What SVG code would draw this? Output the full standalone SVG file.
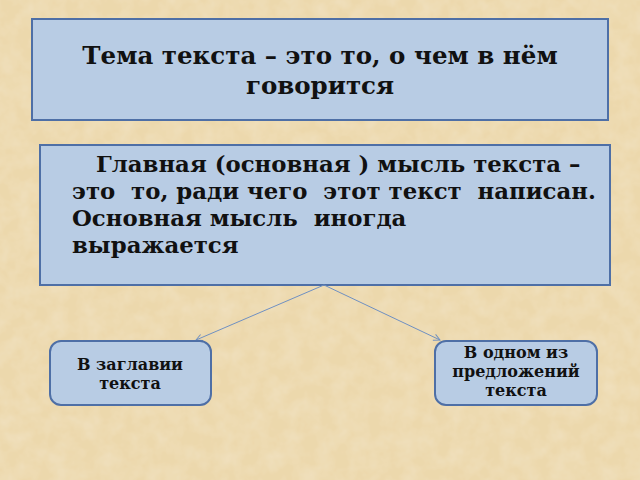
<svg xmlns="http://www.w3.org/2000/svg" width="640" height="480" viewBox="0 0 640 480">
<defs>
<filter id="tex" x="0" y="0" width="100%" height="100%">
<feTurbulence type="fractalNoise" baseFrequency="0.06" numOctaves="3" seed="4" result="n"/>
<feColorMatrix in="n" type="matrix" values="0 0 0 0 0.89  0 0 0 0 0.77  0 0 0 0 0.55  0 0 0 1.1 -0.35" result="c"/>
<feComposite in="c" in2="SourceGraphic" operator="over"/>
</filter>
<marker id="arr" viewBox="0 0 10 10" refX="9" refY="5" markerWidth="8" markerHeight="8" orient="auto" markerUnits="userSpaceOnUse">
<path d="M1,1 L9,5 L1,9" fill="none" stroke="#6F90C2" stroke-width="1.2"/>
</marker>
</defs>
<style>
.box{fill:#B8CCE4;stroke:#4E6FA6;stroke-width:2}
.t{font-family:"DejaVu Serif","Liberation Serif",serif;font-weight:bold;fill:#111}
.big{font-size:24.5px}
.mid{font-size:22.8px;white-space:pre}
.sm{font-size:16px}
.con{stroke:#6F90C2;stroke-width:1;fill:none}
</style>
<rect width="640" height="480" fill="#ECD8AC" filter="url(#tex)"/>
<g id="topic">
<rect class="box" x="32" y="19" width="576" height="101"/>
<text class="t big" x="320" y="64" text-anchor="middle">Тема текста – это то, о чем в нём</text>
<text class="t big" x="320" y="94" text-anchor="middle">говорится</text>
</g>
<g id="idea">
<rect class="box" x="40" y="145" width="570" height="140"/>
<text class="t mid" x="96" y="172" xml:space="preserve">Главная (основная ) мысль текста –</text>
<text class="t mid" x="72" y="199" xml:space="preserve">это  то, ради чего  этот текст  написан.</text>
<text class="t mid" x="72" y="226" xml:space="preserve">Основная мысль  иногда</text>
<text class="t mid" x="72" y="253">выражается</text>
</g>
<g id="connectors">
<line class="con" x1="324" y1="285" x2="196" y2="340" marker-end="url(#arr)"/>
<line class="con" x1="324" y1="285" x2="440" y2="340" marker-end="url(#arr)"/>
</g>
<g id="title-node">
<rect class="box" x="50" y="341" width="161" height="64" rx="11"/>
<text class="t sm" x="130" y="370" text-anchor="middle">В заглавии</text>
<text class="t sm" x="130" y="389" text-anchor="middle">текста</text>
</g>
<g id="sentence-node">
<rect class="box" x="435" y="341" width="162" height="64" rx="11"/>
<text class="t sm" x="516" y="358" text-anchor="middle">В одном из</text>
<text class="t sm" x="516" y="377" text-anchor="middle">предложений</text>
<text class="t sm" x="516" y="396" text-anchor="middle">текста</text>
</g>
</svg>
